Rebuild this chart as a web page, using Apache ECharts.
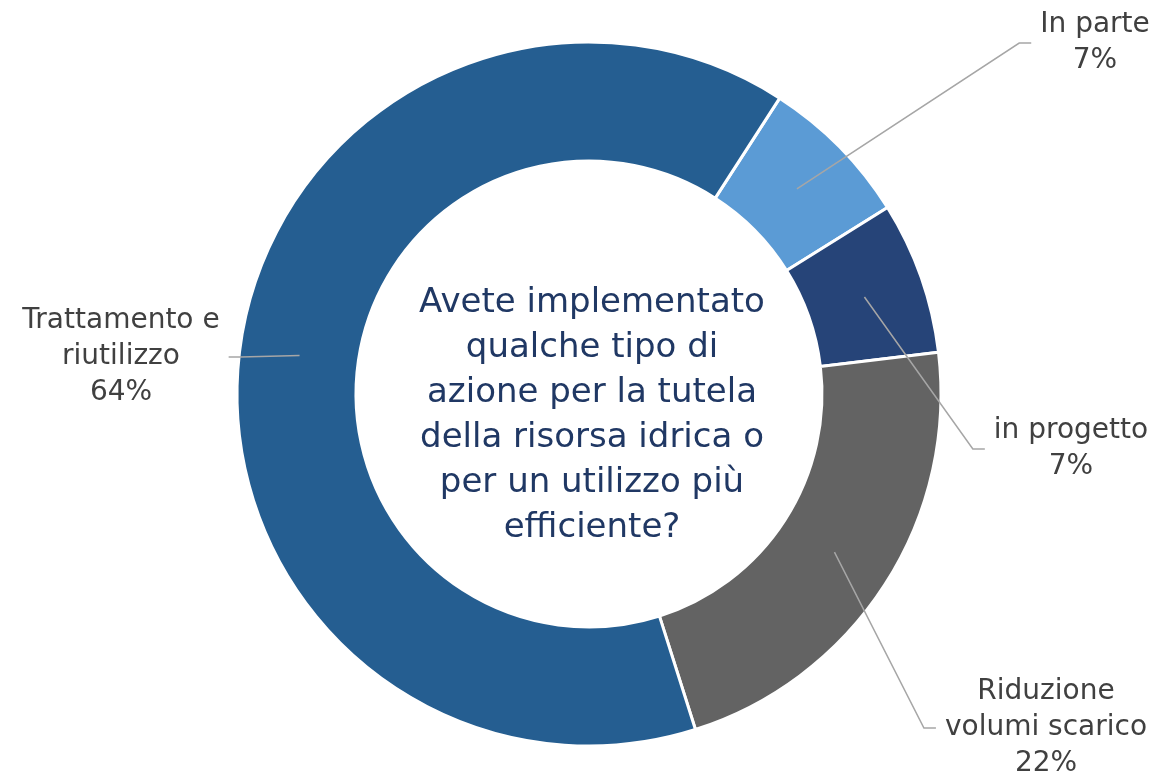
<!DOCTYPE html>
<html>
<head>
<meta charset="utf-8">
<title>Tutela della risorsa idrica</title>
<script src="https://cdn.jsdelivr.net/npm/echarts@6/dist/echarts.min.js"></script>
<style>
  html, body { margin: 0; padding: 0; background: #fff; }
  #chart { width: 1156px; height: 775px; }
</style>
</head>
<body>
<div id="chart"></div>
<script>
// clockwise from the first slice after 12 o'clock
var categories = ['In parte', 'in progetto', 'Riduzione\nvolumi scarico', 'Trattamento e\nriutilizzo'];
var values = [7, 7, 22, 64];
var colors = ['#5B9BD5', '#264478', '#636363', '#255E91'];
var question = 'Avete implementato\nqualche tipo di\nazione per la tutela\ndella risorsa idrica o\nper un utilizzo più\nefficiente?';

// label box centres (px)
var labelPos = [[1095, 43], [1071, 449], [1046, 728], [121, 357]];

var FONT = '"DejaVu Sans", sans-serif';
var CX = 589, CY = 394;

var chartDom = document.getElementById('chart');
var myChart = echarts.init(chartDom, null, { renderer: 'canvas' });

var pieData = categories.map(function (name, i) {
  return { name: name, value: values[i], itemStyle: { color: colors[i] } };
});

var option = {
  animation: false,
  backgroundColor: '#fff',
  series: [
    {
      // the ring
      type: 'pie',
      center: [CX, CY],
      radius: [233, 352],
      startAngle: 57.2,
      silent: true,
      label: { show: false },
      labelLine: { show: false },
      itemStyle: { borderColor: '#fff', borderWidth: 3 },
      data: pieData
    },
    {
      // invisible pie only used to carry labels, so the leader lines start mid-ring
      type: 'pie',
      center: [CX, CY],
      radius: [0, 292],
      startAngle: 57.2,
      silent: true,
      z: 5,
      itemStyle: { color: 'rgba(0,0,0,0)', borderWidth: 0 },
      label: {
        show: true,
        position: 'outside',
        formatter: '{b}\n{d}%',
        color: '#404040',
        fontFamily: FONT,
        fontSize: 28,
        lineHeight: 36,
        align: 'center'
      },
      labelLine: {
        show: true,
        showAbove: true,
        length: 20,
        length2: 12,
        lineStyle: { color: '#A6A6A6', width: 1.5 }
      },
      labelLayout: function (p) {
        var pos = labelPos[p.dataIndex];
        var w = p.labelRect.width;
        var start = p.labelLinePoints[0];
        var side = pos[0] > CX ? -1 : 1;
        var end = [pos[0] + side * (w / 2 + 9), pos[1]];
        var elbow = [end[0] + side * 12, pos[1]];
        return {
          x: pos[0],
          y: pos[1],
          align: 'center',
          verticalAlign: 'middle',
          labelLinePoints: [start, elbow, end]
        };
      },
      data: categories.map(function (name, i) {
        return { name: name, value: values[i] };
      })
    }
  ],
  graphic: [
    {
      type: 'text',
      x: 592,
      y: 416,
      silent: true,
      style: {
        text: question,
        fill: '#203864',
        font: '34px ' + FONT,
        lineHeight: 45,
        align: 'center',
        verticalAlign: 'middle'
      }
    }
  ]
};

option && myChart.setOption(option);
</script>
</body>
</html>
